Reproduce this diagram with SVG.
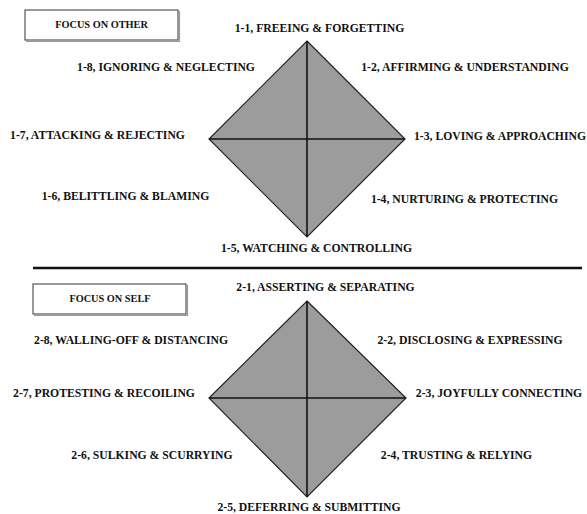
<svg xmlns="http://www.w3.org/2000/svg" width="587" height="514" viewBox="0 0 587 514">
<style>
.lbl{font-family:"Liberation Serif","Times New Roman",serif;font-weight:bold;font-size:11.7px;fill:#111;text-anchor:middle}
.box{fill:#fff;stroke:#555;stroke-width:1.2}
.shadow{fill:none;stroke:#999;stroke-width:1.2}
.boxt{font-family:"Liberation Serif","Times New Roman",serif;font-weight:bold;font-size:10.3px;fill:#111;text-anchor:middle}
.dia{fill:#9c9c9c;stroke:#222;stroke-width:1.2}
.cross{stroke:#111;stroke-width:1.6}
</style>
<rect width="587" height="514" fill="#fff"/>
<g id="box-other"><polyline class="shadow" points="179.5,11 179.5,41.5 26,41.5"/><rect class="box" x="25" y="10" width="153" height="30"/><text class="boxt" x="101.5" y="28">FOCUS ON OTHER</text></g>
<g id="diamond-1">
<polygon class="dia" points="307,41 405,139 307,237 209,139"/>
<line class="cross" x1="307" y1="41" x2="307" y2="237"/>
<line class="cross" x1="209" y1="139" x2="405" y2="139"/>
</g>
<g id="labels-1">
<text class="lbl" x="319.5" y="32">1-1, FREEING &amp; FORGETTING</text>
<text class="lbl" x="465" y="71">1-2, AFFIRMING &amp; UNDERSTANDING</text>
<text class="lbl" x="500" y="139.5">1-3, LOVING &amp; APPROACHING</text>
<text class="lbl" x="464.5" y="203">1-4, NURTURING &amp; PROTECTING</text>
<text class="lbl" x="316.5" y="252">1-5, WATCHING &amp; CONTROLLING</text>
<text class="lbl" x="125.5" y="200">1-6, BELITTLING &amp; BLAMING</text>
<text class="lbl" x="97.5" y="138.5">1-7, ATTACKING &amp; REJECTING</text>
<text class="lbl" x="166" y="71">1-8, IGNORING &amp; NEGLECTING</text>
</g>
<g id="connectors"><line x1="33" y1="268" x2="582" y2="268" stroke="#111" stroke-width="2.6"/></g>
<g id="box-self"><polyline class="shadow" points="187.5,285 187.5,315.5 34,315.5"/><rect class="box" x="33" y="284" width="153" height="30"/><text class="boxt" x="110" y="302">FOCUS ON SELF</text></g>
<g id="diamond-2">
<polygon class="dia" points="307,301 406,398 307,497 209,398"/>
<line class="cross" x1="307" y1="301" x2="307" y2="497"/>
<line class="cross" x1="209" y1="398" x2="406" y2="398"/>
</g>
<g id="labels-2">
<text class="lbl" x="325.5" y="291">2-1, ASSERTING &amp; SEPARATING</text>
<text class="lbl" x="470" y="344">2-2, DISCLOSING &amp; EXPRESSING</text>
<text class="lbl" x="499" y="397">2-3, JOYFULLY CONNECTING</text>
<text class="lbl" x="456.5" y="459">2-4, TRUSTING &amp; RELYING</text>
<text class="lbl" x="309" y="511">2-5, DEFERRING &amp; SUBMITTING</text>
<text class="lbl" x="152" y="459">2-6, SULKING &amp; SCURRYING</text>
<text class="lbl" x="104" y="397">2-7, PROTESTING &amp; RECOILING</text>
<text class="lbl" x="131" y="344">2-8, WALLING-OFF &amp; DISTANCING</text>
</g>
</svg>
